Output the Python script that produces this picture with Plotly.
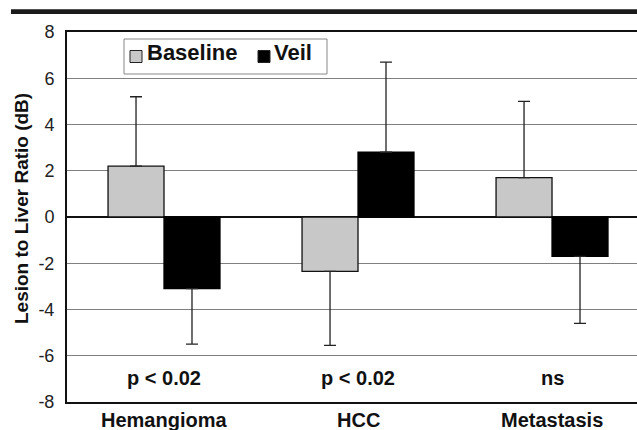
import plotly.graph_objects as go

categories = ["Hemangioma", "HCC", "Metastasis"]
baseline = [2.2, -2.35, 1.7]
baseline_err = [3.0, 3.2, 3.3]
veil = [-3.1, 2.8, -1.7]
veil_err = [2.4, 3.9, 2.9]
p_labels = ["p < 0.02", "p < 0.02", "ns"]
y_ticks = [-8, -6, -4, -2, 0, 2, 4, 6, 8]
y_ticktext = [str(v) for v in y_ticks]
series_names = ["Baseline", "Veil"]
series_colors = ["#c8c8c8", "#000000"]

FONT = "Liberation Sans, Arial, sans-serif"

# plot area in pixels: x 67..637, y 32..402
L, T, W, H = 67, 32, 570, 370


def px_x(px):
    return (px - L) / W


def px_y(py):
    return (T + H - py) / H


def split_err(vals, errs):
    up = [e if v >= 0 else 0 for v, e in zip(vals, errs)]
    down = [e if v < 0 else 0 for v, e in zip(vals, errs)]
    return up, down


b_up, b_down = split_err(baseline, baseline_err)
v_up, v_down = split_err(veil, veil_err)

fig = go.Figure()
fig.add_trace(go.Bar(
    name=series_names[0], x=categories, y=baseline,
    marker=dict(color=series_colors[0], line=dict(color="#111111", width=1.3)),
    error_y=dict(type="data", symmetric=False, array=b_up, arrayminus=b_down,
                 color="#222222", thickness=1.3, width=6),
))
fig.add_trace(go.Bar(
    name=series_names[1], x=categories, y=veil,
    marker=dict(color=series_colors[1], line=dict(color="#000000", width=1.3)),
    error_y=dict(type="data", symmetric=False, array=v_up, arrayminus=v_down,
                 color="#222222", thickness=1.3, width=6),
))

# p-value annotations
for c, p in zip(categories, p_labels):
    fig.add_annotation(x=c, y=-6.95, text=p, showarrow=False,
                       font=dict(family=FONT, size=20, color="#111111", weight="bold"))

# category labels
for c in categories:
    fig.add_annotation(x=c, xref="x", yref="paper", y=px_y(419.5), yanchor="middle",
                       text=c, showarrow=False,
                       font=dict(family=FONT, size=20, color="#111111", weight="bold"))

# y-axis title
fig.add_annotation(xref="paper", yref="paper", x=px_x(21), y=px_y(209),
                   text="Lesion to Liver Ratio (dB)", textangle=-90, showarrow=False,
                   xanchor="center", yanchor="middle",
                   font=dict(family=FONT, size=19, color="#111111", weight="bold"))

# legend box
fig.add_shape(type="rect", xref="paper", yref="paper",
              x0=px_x(124), x1=px_x(327), y0=px_y(74), y1=px_y(39),
              fillcolor="white", line=dict(color="#888888", width=1), layer="above")
leg_sq = [(130, 142), (258, 270)]
leg_txt = [146, 273]
for name, col, (a, b), tx in zip(series_names, series_colors, leg_sq, leg_txt):
    fig.add_shape(type="rect", xref="paper", yref="paper",
                  x0=px_x(a), x1=px_x(b), y0=px_y(62.5), y1=px_y(50.5),
                  fillcolor=col, line=dict(color="#222222", width=1), layer="above")
    fig.add_annotation(xref="paper", yref="paper", x=px_x(tx), y=px_y(53),
                       xanchor="left", yanchor="middle", text=name, showarrow=False,
                       borderpad=0,
                       font=dict(family=FONT, size=22, color="#111111", weight="bold"))

# decorative top rule
fig.add_shape(type="rect", xref="paper", yref="paper",
              x0=px_x(11), x1=px_x(640), y0=px_y(14), y1=px_y(9.3),
              fillcolor="#1a1a1a", line=dict(width=0), layer="above")

fig.update_layout(
    width=637, height=430,
    margin=dict(l=L, r=637 - L - W, t=T, b=430 - T - H, pad=0, autoexpand=False),
    paper_bgcolor="white", plot_bgcolor="white",
    barmode="group", bargap=0.423, bargroupgap=0,
    font=dict(family=FONT, color="#111111"),
    showlegend=False,
    hovermode=False,
    xaxis=dict(range=[-0.5, 2.438], showgrid=False, zeroline=False,
               showline=True, linecolor="#111111", linewidth=2, mirror=True,
               showticklabels=False, ticks="", automargin=False),
    yaxis=dict(range=[-8, 8], tickvals=y_ticks, ticktext=y_ticktext,
               showgrid=True, gridcolor="#808080", gridwidth=1,
               zeroline=True, zerolinecolor="#111111", zerolinewidth=2,
               showline=True, linecolor="#111111", linewidth=2,
               ticks="outside", ticklen=7, tickcolor="rgba(0,0,0,0)",
               tickfont=dict(family=FONT, size=18, color="#222222"),
               automargin=False),
)

fig.write_html("out.html", config={"displayModeBar": False, "staticPlot": True},
               post_script="document.body.style.margin='0';document.body.style.padding='0';")
